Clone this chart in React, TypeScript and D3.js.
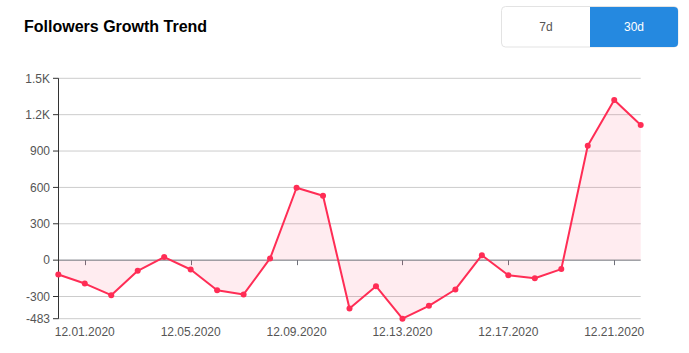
import React from "react";
import * as d3 from "d3";

const dates = [
  "11.30.2020", "12.01.2020", "12.02.2020", "12.03.2020", "12.04.2020", "12.05.2020",
  "12.06.2020", "12.07.2020", "12.08.2020", "12.09.2020", "12.10.2020", "12.11.2020",
  "12.12.2020", "12.13.2020", "12.14.2020", "12.15.2020", "12.16.2020", "12.17.2020",
  "12.18.2020", "12.19.2020", "12.20.2020", "12.21.2020", "12.22.2020",
];
const values = [
  -118, -193, -289, -88, 25, -77, -248, -283, 14, 597, 531, -399,
  -215, -483, -377, -242, 41, -124, -149, -74, 944, 1321, 1115,
];
const labelDates = ["12.01.2020", "12.05.2020", "12.09.2020", "12.13.2020", "12.17.2020", "12.21.2020"];
const yTicks = [-483, -300, 0, 300, 600, 900, 1200, 1500];
const yTickLabels = ["-483", "-300", "0", "300", "600", "900", "1.2K", "1.5K"];
const title = "Followers Growth Trend";
const buttons = ["7d", "30d"];

const W = 689;
const H = 353;
const LINE = "#ff2d55";
const FONT = "'Liberation Sans', Arial, sans-serif";

export default function App() {
  const x = d3.scalePoint<string>().domain(dates).range([58.3, 640.7]);
  const y = d3.scaleLinear().domain([-483, 1500]).range([318.7, 78.3]);
  const x0 = 58.3, x1 = 640.7;

  const line = d3
    .line<number>()
    .x((_, i) => x(dates[i]) as number)
    .y((d) => y(d));
  const area = d3
    .area<number>()
    .x((_, i) => x(dates[i]) as number)
    .y0(y(0))
    .y1((d) => y(d));

  return (
    <svg
      width={W}
      height={H}
      style={{ position: "absolute", left: 0, top: 0, background: "#fff" }}
      fontFamily={FONT}
    >
      <text x={24} y={31.5} fontSize={16} fontWeight="bold" fill="#000">
        {title}
      </text>

      {/* buttons */}
      <rect x={501.5} y={6.5} width={176.5} height={40.5} rx={4} fill="#fff" stroke="#e3e3e3" />
      <path
        d={`M590,7 H674 A4,4 0 0 1 678,11 V43 A4,4 0 0 1 674,47 H590 Z`}
        fill="#2589e0"
      />
      <text x={546} y={31} fontSize={12} textAnchor="middle" fill="#555">
        {buttons[0]}
      </text>
      <text x={634} y={31} fontSize={12} textAnchor="middle" fill="#fff">
        {buttons[1]}
      </text>

      {/* grid */}
      {yTicks.map((t) =>
        t === 0 ? null : (
          <line key={t} x1={x0} x2={x1} y1={y(t)} y2={y(t)} stroke="#cccccc" strokeWidth={1} />
        )
      )}

      {/* x ticks */}
      {labelDates.map((d) => (
        <line
          key={d}
          x1={Math.round(x(d) as number) + 0.5}
          x2={Math.round(x(d) as number) + 0.5}
          y1={y(0)}
          y2={y(0) + 5}
          stroke="#6E7079"
        />
      ))}

      <path d={area(values) || ""} fill="rgba(255,45,85,0.09)" />

      {/* zero axis line */}
      <line x1={x0} x2={x1} y1={y(0)} y2={y(0)} stroke="#6E7079" strokeWidth={1} />

      {/* y axis */}
      <line x1={58.5} x2={58.5} y1={y(1500)} y2={y(-483)} stroke="#333" strokeWidth={1} />
      {yTicks.map((t, i) => (
        <g key={t}>
          <line x1={53} x2={58.5} y1={y(t)} y2={y(t)} stroke="#333" />
          <text x={50} y={y(t)} dy="0.35em" fontSize={12} textAnchor="end" fill="#555">
            {yTickLabels[i]}
          </text>
        </g>
      ))}

      {/* x labels */}
      {labelDates.map((d) => (
        <text key={d} x={x(d) as number} y={336} fontSize={12} textAnchor="middle" fill="#555">
          {d}
        </text>
      ))}

      <path d={line(values) || ""} fill="none" stroke={LINE} strokeWidth={2} strokeLinejoin="round" />
      {values.map((v, i) => (
        <circle key={i} cx={x(dates[i]) as number} cy={y(v)} r={3} fill={LINE} />
      ))}
    </svg>
  );
}
